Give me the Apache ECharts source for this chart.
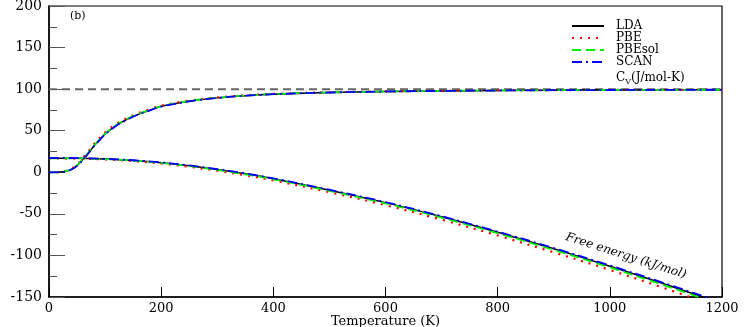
<!DOCTYPE html>
<html>
<head>
<meta charset="utf-8">
<script src="https://cdn.jsdelivr.net/npm/echarts@6/dist/echarts.min.js"></script>
<style>
  html, body { margin: 0; padding: 0; background: #fff; }
  #main { width: 747px; height: 327px; }
</style>
</head>
<body>
<div id="main"></div>
<script>
// heat capacity Cv (J/mol-K) vs temperature
const tempCv = [0, 10, 20, 30, 40, 50, 60, 70, 80, 90, 100, 120, 140, 160, 180, 200, 250, 300, 350, 400, 500, 600, 700, 800, 900, 1000, 1100, 1200];
const cvLDA    = [0, 0, 0.2, 1.2, 3.5, 8, 15, 23, 31.5, 39, 46, 56.5, 64, 70, 74.8, 79.3, 85.5, 89.5, 92.2, 94, 96, 97.2, 97.9, 98.4, 98.7, 99, 99.2, 99.3];
const cvPBE    = [0, 0, 0.3, 1.6, 4.3, 9.3, 16.8, 25, 33.5, 41, 48, 58.3, 65.5, 71.3, 75.9, 80.2, 86.2, 90, 92.6, 94.3, 96.2, 97.3, 98, 98.5, 98.8, 99.05, 99.25, 99.35];
const cvPBEsol = [0, 0, 0.2, 1.3, 3.7, 8.3, 15.4, 23.4, 32, 39.5, 46.5, 57, 64.4, 70.4, 75.1, 79.6, 85.7, 89.7, 92.3, 94.1, 96.05, 97.2, 97.9, 98.4, 98.75, 99, 99.2, 99.3];
const cvSCAN   = [0, 0, 0.2, 1.1, 3.3, 7.7, 14.6, 22.6, 31, 38.5, 45.5, 56, 63.6, 69.7, 74.5, 79, 85.3, 89.4, 92.1, 93.9, 95.95, 97.15, 97.85, 98.35, 98.7, 98.95, 99.15, 99.3];

// free energy (kJ/mol) vs temperature
const tempF = [0, 50, 100, 150, 200, 250, 300, 350, 400, 500, 600, 700, 800, 900, 1000, 1100, 1200];
const fLDA    = [17, 16.9, 16, 14.3, 11.6, 7.9, 3.4, -1.8, -7.8, -21.5, -36.5, -53.5, -72.2, -92, -113, -135, -158];
const fPBE    = [16.6, 16.4, 15.4, 13.5, 10.6, 6.6, 1.9, -3.6, -9.8, -24, -39.5, -57, -76, -96.3, -117.5, -140, -163.5];
const fPBEsol = [16.9, 16.8, 15.9, 14.1, 11.3, 7.5, 2.9, -2.4, -8.4, -22.3, -37.4, -54.5, -73.3, -93.3, -114.4, -136.6, -159.7];
const fSCAN   = [17.2, 17.1, 16.2, 14.5, 11.9, 8.2, 3.8, -1.4, -7.3, -21, -35.9, -52.8, -71.4, -91.1, -112, -133.9, -156.7];

// classical limit line
const limitT = [0, 1200];
const limitCv = [100, 100];

const SERIF = "DejaVu Serif";

function pairs(xs, ys) {
  return xs.map((x, i) => [x, ys[i]]);
}

const styles = {
  LDA:    { color: "#000000", type: "solid", width: 1.5 },
  PBE:    { color: "#ff0000", type: [2, 6], width: 2.2 },
  PBEsol: { color: "#00ee00", type: [9, 5], width: 1.8 },
  SCAN:   { color: "#0000ff", type: [10, 4, 2, 4], width: 1.8 }
};

function curve(name, xs, ys) {
  const s = styles[name];
  return {
    name: name,
    type: "line",
    data: pairs(xs, ys),
    symbol: "none",
    smooth: 0.35,
    color: s.color,
    lineStyle: { color: s.color, type: s.type, width: s.width }
  };
}

const myChart = echarts.init(document.getElementById("main"));

const option = {
  animation: false,
  backgroundColor: "#fff",
  grid: {
    left: 49, right: 25, top: 6, bottom: 30,
    containLabel: false, outerBoundsMode: "none",
    show: true, borderColor: "#000", borderWidth: 1.2
  },
  legend: {
    orient: "vertical",
    left: 566, top: 15,
    itemWidth: 32, itemHeight: 11, itemGap: 0,
    itemStyle: { opacity: 0 },
    data: ["LDA", "PBE", "PBEsol", "SCAN"],
    textStyle: { fontFamily: SERIF, fontSize: 12, color: "#000", padding: [0, 0, 0, 7], lineHeight: 11 }
  },
  xAxis: {
    type: "value",
    min: 0, max: 1200, interval: 200,
    name: "Temperature (K)",
    nameLocation: "middle",
    nameGap: 18,
    nameMoveOverlap: false,
    nameTextStyle: { fontFamily: SERIF, fontSize: 13, color: "#000", verticalAlign: "top" },
    axisLine: { onZero: false, lineStyle: { color: "#000", width: 1.5 } },
    axisTick: { inside: true, length: 10, lineStyle: { color: "#000" } },
    axisLabel: { fontFamily: SERIF, fontSize: 13, color: "#000", margin: 5, formatter: (v) => String(v) },
    splitLine: { show: false }
  },
  yAxis: {
    type: "value",
    min: -150, max: 200, interval: 50,
    axisLine: { show: true, onZero: false, lineStyle: { color: "#000", width: 1.5 } },
    axisTick: { show: true, inside: true, length: 16, lineStyle: { color: "#555" } },
    minorTick: { show: true, splitNumber: 2, length: 8, lineStyle: { color: "#555" } },
    axisLabel: { fontFamily: SERIF, fontSize: 14, color: "#000", margin: 7 },
    splitLine: { show: false }
  },
  graphic: [
    { type: "text", left: 70, top: 11, style: { text: "(b)", font: "11px " + SERIF, fill: "#000" } },
    {
      type: "text", left: 616, top: 72,
      style: {
        text: "{a|C}{s|V}{a|(J/mol-K)}",
        rich: {
          a: { fontFamily: SERIF, fontSize: 12, fill: "#000" },
          s: { fontFamily: SERIF, fontSize: 8, fill: "#000", padding: [8, 0, 0, 0] }
        }
      }
    },
    {
      type: "text", x: 626, y: 256, rotation: -0.31,
      style: {
        text: "Free energy (kJ/mol)", font: "italic 12px " + SERIF, fill: "#000",
        align: "center", verticalAlign: "middle"
      }
    }
  ],
  series: [
    {
      name: "limit",
      type: "line",
      data: pairs(limitT, limitCv),
      symbol: "none",
      lineStyle: { color: "#666", type: [8, 5], width: 2 },
      z: 1
    },
    curve("LDA", tempCv, cvLDA),
    curve("PBE", tempCv, cvPBE),
    curve("PBEsol", tempCv, cvPBEsol),
    curve("SCAN", tempCv, cvSCAN),
    curve("LDA", tempF, fLDA),
    curve("PBE", tempF, fPBE),
    curve("PBEsol", tempF, fPBEsol),
    curve("SCAN", tempF, fSCAN)
  ]
};

myChart.setOption(option);
window.addEventListener("resize", () => {
  myChart.resize();
});
</script>
</body>
</html>
